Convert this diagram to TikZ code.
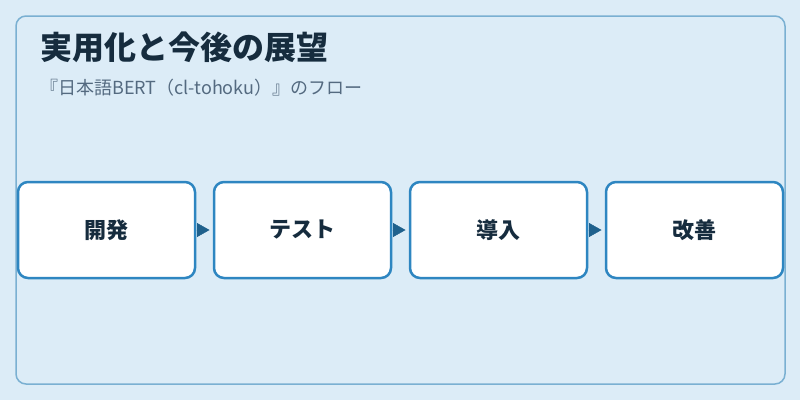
\documentclass[tikz,border=0pt]{standalone}
\usepackage{fontspec}
\setmainfont{Noto Sans CJK JP}
\usetikzlibrary{positioning,arrows.meta}
\definecolor{fond}{RGB}{220,236,247}
\definecolor{cadre}{RGB}{122,176,210}
\definecolor{bord}{RGB}{46,134,193}
\definecolor{fleche}{RGB}{31,97,141}
\definecolor{encre}{RGB}{22,44,62}
\definecolor{gris}{RGB}{84,106,128}

\begin{document}
\begin{tikzpicture}[x=1pt,y=-1pt,
  etape/.style={draw=bord,fill=white,line width=2.5pt,rounded corners=10pt,
    minimum width=177pt,minimum height=96pt,inner sep=0pt,outer sep=0pt,
    font=\fontsize{22}{26}\selectfont\bfseries,text=encre},
  lien/.style={draw=fleche,fill=fleche,line width=0.4pt,-{Triangle[length=12.5pt,width=14pt]},
    shorten <=1.5pt,shorten >=4.5pt}]
\useasboundingbox (0,0) rectangle (800,400);
\fill [fond] (0,0) rectangle (800,400);
\draw [cadre, line width=1.5pt, rounded corners=10pt] (16,16) rectangle (785,384);
\node [anchor=west, inner sep=0pt, text=encre, font=\fontsize{32}{38}\selectfont\bfseries] (titre) at (40,47) {実用化と今後の展望};
\node [anchor=west, inner sep=0pt, text=gris, font=\fontsize{18}{22}\selectfont] (soustitre) at (40,88) {『日本語BERT（cl-tohoku）』のフロー};

\node [etape] (dev) at (106.5,230) {開発};
\node [etape, right=19pt of dev] (test) {テスト};
\node [etape, right=19pt of test] (intro) {導入};
\node [etape, right=19pt of intro] (amel) {改善};
\draw [lien] (dev) -- (test);
\draw [lien] (test) -- (intro);
\draw [lien] (intro) -- (amel);

\end{tikzpicture}
\end{document}
